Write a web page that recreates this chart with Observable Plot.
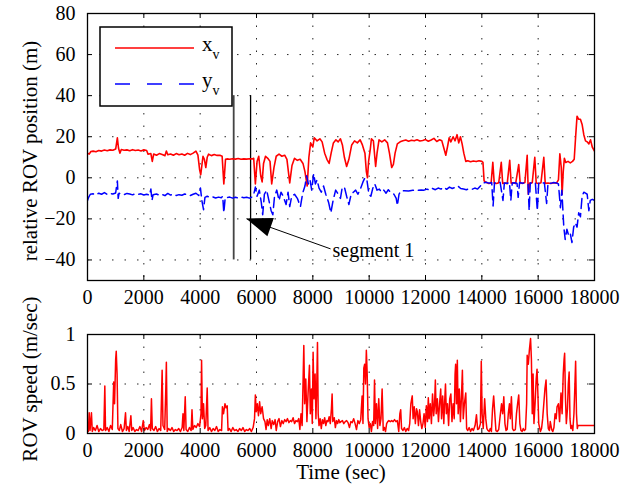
<!DOCTYPE html>
<html><head><meta charset="utf-8">
<script src="https://cdn.jsdelivr.net/npm/d3@7"></script>
<script src="https://cdn.jsdelivr.net/npm/@observablehq/plot@0.6"></script>
<style>
body{margin:0;background:#fff}
#wrap{position:relative;width:633px;height:491px;background:#fff}
#wrap svg{position:absolute;left:0}
</style>
</head><body><div id="wrap"></div>
<script>
const xTicks = [0,2000,4000,6000,8000,10000,12000,14000,16000,18000];
const posTicks = [-40,-20,0,20,40,60,80];
const speedTicks = [0,0.5,1];
const segmentTimes = [5190, 5790];
const segmentRange = [-40, 40];
const arrowTail = [8630, -34.6];
const arrowTip = [5650, -20];
const seriesNames = ["x", "y"];

// x_v: [time (s), position (m)]
const xv = [[0,12],[60,11.5],[120,12.8],[200,13],[300,12.7],[400,13.3],[500,13],[600,13.5],[700,13.2],[800,13.6],[900,13.4],[1000,14],[1060,19.5],[1100,14.5],[1150,12],[1200,13.8],[1300,13.4],[1400,13.6],[1500,13.2],[1600,13.7],[1700,13.3],[1800,13.5],[1900,13.1],[2000,13.6],[2100,13.3],[2150,11.5],[2250,11.8],[2300,8],[2350,11.6],[2450,11],[2550,11.8],[2650,11.3],[2750,10.8],[2800,13],[2850,11.2],[2950,11.6],[3050,11],[3150,11.8],[3250,11.2],[3350,11.6],[3450,11],[3550,11.9],[3650,11.3],[3750,12],[3850,13],[3920,11],[3980,4],[4020,1.5],[4060,6],[4100,10.5],[4150,9],[4200,5],[4250,10],[4300,11.5],[4400,10.8],[4500,11.3],[4600,10.9],[4700,11],[4780,10.5],[4840,-3],[4900,9],[4950,9.2],[5050,9],[5150,9.3],[5250,9.1],[5350,9.4],[5450,9],[5550,9.2],[5650,9.1],[5750,9.3],[5850,9.2],[5900,9.5],[5960,-3],[6020,8],[6080,10.5],[6150,1],[6200,-2],[6250,7],[6320,10.5],[6400,9.5],[6480,8],[6540,-3],[6620,5],[6700,10.5],[6800,11.5],[6900,10.5],[7000,11],[7080,9],[7180,-2.5],[7260,6],[7350,9.5],[7450,8.5],[7550,9],[7650,7],[7720,3],[7800,-4],[7860,10],[7920,17],[8000,15],[8050,19.5],[8150,18],[8250,19],[8330,17.5],[8420,12],[8500,9],[8580,7],[8650,12],[8730,17],[8820,18.5],[8900,17.5],[8980,19],[9050,16],[9120,10],[9200,5.5],[9280,9],[9380,16],[9480,18],[9580,17],[9680,18.5],[9760,16],[9850,12],[9900,3],[9940,0],[9980,8],[10040,14],[10080,19],[10150,18],[10200,10],[10230,5.5],[10280,12],[10350,18.5],[10450,17.5],[10550,18.5],[10650,17],[10720,12],[10800,5],[10860,6.5],[10920,12],[11000,16.5],[11100,17.5],[11200,18],[11300,18.4],[11400,17.8],[11500,18.3],[11600,18],[11700,18.5],[11800,17.9],[11900,18.2],[12000,18.6],[12100,17.8],[12200,18.4],[12300,19.2],[12400,17.7],[12500,18.5],[12580,18],[12660,14],[12720,11],[12780,15],[12840,19.5],[12900,17.5],[12980,20],[13050,18],[13120,21],[13180,17],[13240,20],[13300,16.5],[13360,12],[13430,8],[13500,8.3],[13600,7.8],[13700,8.2],[13800,7.9],[13900,8.3],[14000,8],[14040,7.5],[14080,-1.5],[14150,-2.2],[14250,-2.8],[14330,-2.5],[14390,7.5],[14440,-2.6],[14520,-2.8],[14600,-2.4],[14690,7.5],[14740,-2.7],[14820,-2.5],[14900,-2.9],[14990,8.5],[15040,-2.6],[15120,-2.4],[15200,-2.8],[15310,6.5],[15360,-2.5],[15450,-2.7],[15530,-2.3],[15610,11],[15650,-8],[15700,-2.6],[15790,-2.4],[15880,10],[15930,-2.5],[16020,-2.8],[16100,-2.4],[16200,10],[16250,-2.7],[16350,-2.5],[16450,-2.8],[16550,-2.4],[16650,-2.6],[16720,-1],[16770,11.7],[16820,5],[16850,-8],[16890,3],[16930,9.5],[16980,7.5],[17060,8],[17140,7.3],[17220,8],[17280,9],[17330,20],[17380,30],[17440,28.5],[17500,28.5],[17560,26],[17620,21],[17680,18],[17740,17.5],[17800,16.5],[17860,18.5],[17920,15],[18000,13]];

// y_v: [time (s), position (m)]
const yv = [[0,-11],[40,-9.5],[100,-8],[200,-7.8],[300,-8.3],[400,-7.5],[500,-8],[600,-7.2],[700,-8.1],[800,-7.6],[900,-7.9],[1000,-7.4],[1060,-1.5],[1090,-10],[1120,-7.5],[1200,-7.8],[1300,-8.2],[1400,-7.6],[1500,-7.9],[1600,-8.3],[1700,-7.7],[1800,-8],[1900,-7.8],[2000,-8.4],[2100,-8],[2200,-8.5],[2250,-5.5],[2290,-11],[2330,-8.2],[2450,-7.9],[2550,-8.5],[2650,-8.1],[2750,-8.7],[2850,-7.6],[2950,-8.4],[3050,-8],[3150,-8.6],[3250,-8.2],[3350,-8.5],[3450,-7.9],[3550,-8.3],[3650,-8.6],[3750,-8],[3850,-7.5],[3950,-8.6],[4010,-5],[4060,-11],[4120,-15.5],[4170,-9.5],[4250,-9],[4350,-9.6],[4450,-9.3],[4550,-9.8],[4650,-9.4],[4750,-9.7],[4800,-9],[4840,-17],[4890,-9.5],[4950,-9.6],[5050,-9.4],[5150,-9.9],[5250,-9.5],[5350,-9.8],[5450,-9.4],[5550,-9.7],[5650,-9.5],[5750,-9.9],[5850,-9.3],[5920,-7],[5960,-4.5],[6020,-9],[6100,-6],[6170,-12],[6220,-18],[6280,-8],[6360,-6],[6440,-11],[6520,-16],[6580,-18],[6640,-9],[6720,-6],[6800,-11],[6870,-7],[6950,-9],[7050,-13],[7120,-7],[7180,-14],[7250,-9],[7350,-8],[7450,-10],[7560,-14],[7640,-7.5],[7720,-4],[7780,1],[7840,-3],[7900,-1],[7960,-6],[8030,2],[8090,-3],[8150,-1],[8220,-5],[8300,-7],[8380,-4],[8460,-8],[8560,-12],[8640,-17],[8720,-11],[8810,-6],[8900,-8],[8980,-10],[9040,-5],[9120,-4.5],[9200,-9],[9280,-13],[9360,-8],[9440,-7],[9520,-6],[9600,-8],[9700,-5],[9780,-2],[9850,0],[9920,-1],[9990,-8],[10060,-9],[10130,-5],[10200,-3],[10280,-6],[10360,-5.5],[10440,-7],[10520,-6],[10600,-7.5],[10680,-5.8],[10760,-7],[10880,-8],[10960,-10],[11000,-13.5],[11060,-8],[11120,-6.5],[11250,-6.3],[11400,-6.4],[11550,-6.1],[11700,-6.2],[11850,-5.9],[11950,-6],[12050,-5.5],[12150,-6],[12250,-5.2],[12350,-5.8],[12450,-5],[12550,-5.5],[12650,-4.6],[12750,-5.6],[12850,-4.5],[12950,-5.2],[13050,-4.7],[13150,-4],[13250,-5.2],[13350,-5.5],[13450,-5.8],[13550,-5.3],[13650,-5.6],[13750,-5],[13850,-5.5],[13950,-4],[14050,-2.5],[14150,-2.2],[14250,-2.6],[14350,-2.3],[14400,-13.7],[14450,-2.4],[14550,-2.8],[14650,-2.2],[14750,-11],[14800,-2.5],[14900,-2.7],[14980,-2.2],[15030,-11],[15080,-2.5],[15180,-2.4],[15250,-2.8],[15290,-9.5],[15340,-2.3],[15450,-2.6],[15550,-2.4],[15640,-3],[15680,-16],[15720,-2.5],[15820,-2.7],[15900,-2.3],[15970,-16],[16020,-2.4],[16120,-2.6],[16220,-2.4],[16300,-12.5],[16350,-2.5],[16450,-2.7],[16550,-2.3],[16650,-2.5],[16720,-3],[16790,-14.6],[16840,-6],[16910,-24],[16960,-30],[17020,-25],[17080,-28],[17140,-27],[17200,-31.5],[17260,-24],[17320,-22],[17380,-24],[17440,-17],[17500,-19],[17560,-9],[17620,-7],[17680,-7.5],[17740,-8],[17800,-16],[17850,-11],[17920,-10.5],[18000,-11]];

// ROV speed: [time (s), speed (m/s)]
const speed = [[0,0.05],[30,0.02],[60,0.21],[90,0.03],[140,0.21],[170,0.02],[220,0.06],[280,0.03],[340,0.08],[400,0.02],[460,0.05],[520,0.03],[580,0.04],[615,0.48],[640,0.03],[700,0.06],[760,0.02],[820,0.08],[880,0.04],[930,0.52],[960,0.3],[1000,0.75],[1020,0.83],[1050,0.6],[1080,0.05],[1130,0.03],[1180,0.09],[1240,0.02],[1300,0.05],[1350,0.21],[1380,0.03],[1430,0.07],[1480,0.02],[1540,0.18],[1570,0.03],[1620,0.06],[1680,0.02],[1740,0.04],[1800,0.03],[1860,0.07],[1920,0.02],[1980,0.13],[2020,0.03],[2080,0.06],[2140,0.04],[2200,0.09],[2240,0.03],[2270,0.35],[2300,0.05],[2360,0.03],[2420,0.07],[2480,0.02],[2540,0.05],[2600,0.03],[2650,0.64],[2680,0.08],[2740,0.04],[2780,0.45],[2800,0.72],[2830,0.02],[2880,0.05],[2940,0.03],[3000,0.06],[3060,0.02],[3120,0.04],[3180,0.03],[3240,0.05],[3300,0.02],[3360,0.06],[3390,0.2],[3420,0.03],[3470,0.37],[3500,0.04],[3560,0.02],[3620,0.06],[3680,0.03],[3710,0.24],[3740,0.04],[3800,0.08],[3860,0.06],[3920,0.1],[3980,0.07],[4030,0.2],[4050,0.74],[4080,0.15],[4120,0.3],[4160,0.05],[4200,0.08],[4250,0.46],[4280,0.03],[4340,0.06],[4400,0.02],[4460,0.05],[4520,0.03],[4580,0.07],[4640,0.02],[4700,0.04],[4760,0.03],[4790,0.27],[4830,0.2],[4880,0.3],[4920,0.26],[4960,0.28],[4990,0.03],[5040,0.05],[5100,0.02],[5160,0.06],[5220,0.03],[5280,0.04],[5340,0.02],[5400,0.05],[5460,0.03],[5520,0.06],[5580,0.02],[5640,0.04],[5700,0.03],[5760,0.05],[5820,0.02],[5880,0.06],[5930,0.15],[5960,0.39],[5990,0.22],[6030,0.3],[6070,0.18],[6110,0.32],[6150,0.2],[6200,0.27],[6250,0.15],[6300,0.12],[6340,0.04],[6380,0.14],[6420,0.08],[6470,0.15],[6520,0.05],[6560,0.13],[6610,0.09],[6660,0.14],[6700,0.03],[6750,0.12],[6800,0.15],[6850,0.07],[6900,0.13],[6950,0.1],[7000,0.14],[7050,0.12],[7100,0.15],[7150,0.11],[7200,0.13],[7250,0.12],[7300,0.16],[7350,0.1],[7400,0.13],[7450,0.12],[7500,0.15],[7540,0.04],[7580,0.2],[7620,0.08],[7680,0.89],[7710,0.3],[7750,0.55],[7790,0.12],[7830,0.4],[7880,0.69],[7910,0.2],[7950,0.45],[7980,0.1],[8010,0.82],[8040,0.35],[8080,0.6],[8110,0.15],[8140,0.5],[8165,0.92],[8190,0.2],[8220,0.08],[8260,0.15],[8300,0.05],[8340,0.14],[8380,0.1],[8420,0.16],[8460,0.08],[8500,0.13],[8540,0.12],[8580,0.17],[8620,0.1],[8660,0.25],[8685,0.4],[8710,0.12],[8760,0.16],[8800,0.06],[8840,0.13],[8880,0.1],[8920,0.14],[8960,0.11],[9000,0.12],[9050,0.13],[9100,0.1],[9150,0.12],[9200,0.13],[9250,0.11],[9300,0.06],[9350,0.12],[9400,0.11],[9450,0.15],[9500,0.1],[9550,0.04],[9600,0.13],[9650,0.1],[9700,0.14],[9750,0.38],[9780,0.1],[9810,0.66],[9840,0.7],[9870,0.5],[9900,0.84],[9930,0.6],[9960,0.15],[10000,0.06],[10040,0.1],[10080,0.02],[10120,0.12],[10160,0.08],[10190,0.54],[10220,0.1],[10260,0.3],[10300,0.05],[10340,0.35],[10380,0.08],[10420,0.15],[10460,0.45],[10500,0.03],[10540,0.06],[10580,0.02],[10620,0.1],[10660,0.12],[10700,0.13],[10750,0.12],[10800,0.13],[10850,0.12],[10900,0.14],[10950,0.12],[11000,0.13],[11050,0.02],[11090,0.2],[11120,0.24],[11150,0.05],[11200,0.03],[11250,0.06],[11300,0.02],[11350,0.05],[11400,0.03],[11440,0.1],[11480,0.3],[11510,0.35],[11530,0.38],[11560,0.15],[11600,0.27],[11640,0.1],[11680,0.25],[11710,0.22],[11750,0.08],[11790,0.24],[11830,0.12],[11870,0.05],[11910,0.1],[11950,0.2],[11990,0.06],[12030,0.28],[12070,0.12],[12100,0.36],[12130,0.15],[12170,0.3],[12210,0.1],[12250,0.4],[12290,0.18],[12320,0.28],[12350,0.54],[12380,0.2],[12420,0.35],[12460,0.12],[12500,0.3],[12540,0.45],[12570,0.15],[12610,0.38],[12650,0.1],[12680,0.32],[12710,0.5],[12740,0.2],[12780,0.3],[12820,0.08],[12860,0.35],[12900,0.4],[12940,0.12],[12980,0.3],[13020,0.15],[13050,0.6],[13070,0.7],[13100,0.3],[13130,0.74],[13160,0.2],[13200,0.45],[13240,0.12],[13280,0.4],[13310,0.64],[13340,0.15],[13380,0.3],[13430,0.41],[13460,0.05],[13500,0.03],[13550,0.06],[13600,0.02],[13650,0.05],[13700,0.03],[13760,0.08],[13810,0.19],[13850,0.04],[13900,0.05],[13950,0.1],[13980,0.73],[14010,0.2],[14050,0.05],[14100,0.35],[14140,0.15],[14180,0.05],[14220,0.03],[14260,0.02],[14300,0.05],[14340,0.02],[14380,0.25],[14420,0.38],[14460,0.2],[14500,0.03],[14550,0.02],[14600,0.04],[14640,0.15],[14700,0.3],[14740,0.2],[14780,0.37],[14820,0.1],[14860,0.03],[14900,0.04],[14940,0.2],[14980,0.3],[15010,0.15],[15050,0.37],[15090,0.05],[15130,0.03],[15190,0.04],[15230,0.2],[15270,0.3],[15310,0.39],[15350,0.1],[15390,0.03],[15430,0.02],[15470,0.05],[15510,0.03],[15550,0.04],[15590,0.3],[15610,0.79],[15650,0.7],[15690,0.85],[15730,0.96],[15760,0.75],[15790,0.2],[15820,0.6],[15850,0.1],[15890,0.3],[15930,0.55],[15960,0.65],[15990,0.4],[16020,0.1],[16080,0.02],[16120,0.05],[16160,0.15],[16200,0.3],[16240,0.45],[16280,0.54],[16320,0.2],[16360,0.05],[16400,0.03],[16430,0.12],[16480,0.04],[16520,0.02],[16560,0.06],[16600,0.2],[16640,0.15],[16670,0.27],[16720,0.3],[16760,0.12],[16810,0.41],[16850,0.2],[16890,0.6],[16920,0.75],[16940,0.81],[16970,0.35],[17000,0.1],[17040,0.25],[17070,0.5],[17100,0.62],[17130,0.15],[17160,0.05],[17190,0.08],[17230,0.03],[17270,0.2],[17300,0.45],[17330,0.73],[17360,0.2],[17390,0.05],[17410,0.08],[17600,0.08],[17800,0.08],[18000,0.08]];

const FONT = "Liberation Serif";
const RED = "#ff0000", BLUE = "#0000ff";
const gridStyle = {stroke: "#000", strokeOpacity: 0.85, strokeDasharray: "1.5,11", strokeWidth: 1};
const fmtX = d => String(d);
const fmtSpeed = d => String(d);

function frameTicks(yTicks, frameW, frameH, yFormat) {
  const yAxisOpts = {tickSize: 0, tickPadding: 12, fontSize: 20, label: null};
  if (yFormat) yAxisOpts.tickFormat = yFormat;
  return [
    Plot.frame({stroke: "#000", strokeWidth: 1.3}),
    Plot.ruleX(xTicks, {insetTop: frameH - 5, stroke: "#000"}),
    Plot.ruleX(xTicks, {insetBottom: frameH - 5, stroke: "#000"}),
    Plot.ruleY(yTicks, {insetRight: frameW - 5, stroke: "#000"}),
    Plot.ruleY(yTicks, {insetLeft: frameW - 5, stroke: "#000"}),
    Plot.axisX(xTicks, {tickSize: 0, tickPadding: 9, tickFormat: fmtX, fontSize: 20, label: null}),
    Plot.axisY(yTicks, yAxisOpts)
  ];
}

const topPlot = Plot.plot({
  width: 633, height: 310,
  marginLeft: 87, marginRight: 39, marginTop: 13, marginBottom: 30,
  style: {fontFamily: FONT, fontSize: "20px", background: "transparent", color: "#000", overflow: "visible"},
  x: {domain: [0, 18000]},
  y: {domain: [-50, 80]},
  marks: [
    Plot.gridX(xTicks, gridStyle),
    Plot.gridY(posTicks, gridStyle),
    Plot.ruleX([segmentTimes[0]], {y1: segmentRange[0], y2: segmentRange[1], stroke: "#444", strokeWidth: 1.8}),
    Plot.ruleX([segmentTimes[1]], {y1: segmentRange[0], y2: segmentRange[1], stroke: "#000", strokeWidth: 1.3}),
    Plot.line(xv, {x: d => d[0], y: d => d[1], stroke: RED, strokeWidth: 1.6, clip: true}),
    Plot.line(yv, {x: d => d[0], y: d => d[1], stroke: BLUE, strokeWidth: 1.5, strokeDasharray: "10,5", clip: true}),
    Plot.link([arrowTail], {x1: d => d[0], y1: d => d[1], x2: () => arrowTip[0], y2: () => arrowTip[1], stroke: "#000", strokeWidth: 1}),
    Plot.text([arrowTail], {x: d => d[0], y: d => d[1], text: () => "segment 1", textAnchor: "start", dx: 2, dy: 2, fontSize: 20}),
    ...frameTicks(posTicks, 507, 267),
    Plot.text(["relative ROV position (m)"], {text: d => d, frameAnchor: "left", textAnchor: "middle", dx: -57, dy: 4, rotate: -90, fontSize: 21})
  ]
});

// filled arrow head
{
  const sx = topPlot.scale("x"), sy = topPlot.scale("y");
  const tip = [sx.apply(arrowTip[0]), sy.apply(arrowTip[1])];
  const tail = [sx.apply(arrowTail[0]), sy.apply(arrowTail[1])];
  const a = Math.atan2(tail[1] - tip[1], tail[0] - tip[0]);
  const L = 26, H = 9.6;
  const bx = tip[0] + L * Math.cos(a), by = tip[1] + L * Math.sin(a);
  const pts = [tip, [bx - H * Math.sin(a), by + H * Math.cos(a)], [bx + H * Math.sin(a), by - H * Math.cos(a)]];
  d3.select(topPlot).append("polygon").attr("points", pts.map(p => p.join(",")).join(" ")).attr("fill", "#000");
}

// legend
{
  const g = d3.select(topPlot).append("g").attr("font-family", FONT).attr("text-anchor", "start");
  g.append("rect").attr("x", 100).attr("y", 27).attr("width", 132).attr("height", 79)
    .attr("fill", "#fff").attr("stroke", "#000").attr("stroke-width", 1.5);
  g.append("line").attr("x1", 115).attr("x2", 194).attr("y1", 48).attr("y2", 48).attr("stroke", RED).attr("stroke-width", 1.4);
  g.append("line").attr("x1", 115).attr("x2", 195).attr("y1", 84).attr("y2", 84).attr("stroke", BLUE).attr("stroke-width", 1.4).attr("stroke-dasharray", "15,17");
  [[seriesNames[0], 51], [seriesNames[1], 87]].forEach(([name, base]) => {
    const t = g.append("text").attr("x", 202).attr("y", base).attr("font-size", 21).attr("text-anchor", "start");
    t.append("tspan").text(name);
    t.append("tspan").attr("font-size", 14).attr("dy", 8).text("v");
  });
}

const bottomPlot = Plot.plot({
  width: 633, height: 181,
  marginLeft: 87, marginRight: 39, marginTop: 24, marginBottom: 58,
  style: {fontFamily: FONT, fontSize: "20px", background: "transparent", color: "#000", overflow: "visible"},
  x: {domain: [0, 18000]},
  y: {domain: [0, 1]},
  marks: [
    Plot.gridX(xTicks, gridStyle),
    Plot.gridY(speedTicks, gridStyle),
    Plot.line(speed, {x: d => d[0], y: d => d[1], stroke: RED, strokeWidth: 1.5, clip: true}),
    ...frameTicks(speedTicks, 507, 99, fmtSpeed),
    Plot.text(["ROV speed (m/sec)"], {text: d => d, frameAnchor: "left", textAnchor: "middle", dx: -57, dy: -5, rotate: -90, fontSize: 21}),
    Plot.text(["Time (sec)"], {text: d => d, frameAnchor: "bottom", textAnchor: "middle", dy: 45, fontSize: 21})
  ]
});

topPlot.style.top = "0px";
bottomPlot.style.top = "310px";
document.getElementById("wrap").append(topPlot, bottomPlot);
</script>
</body></html>
